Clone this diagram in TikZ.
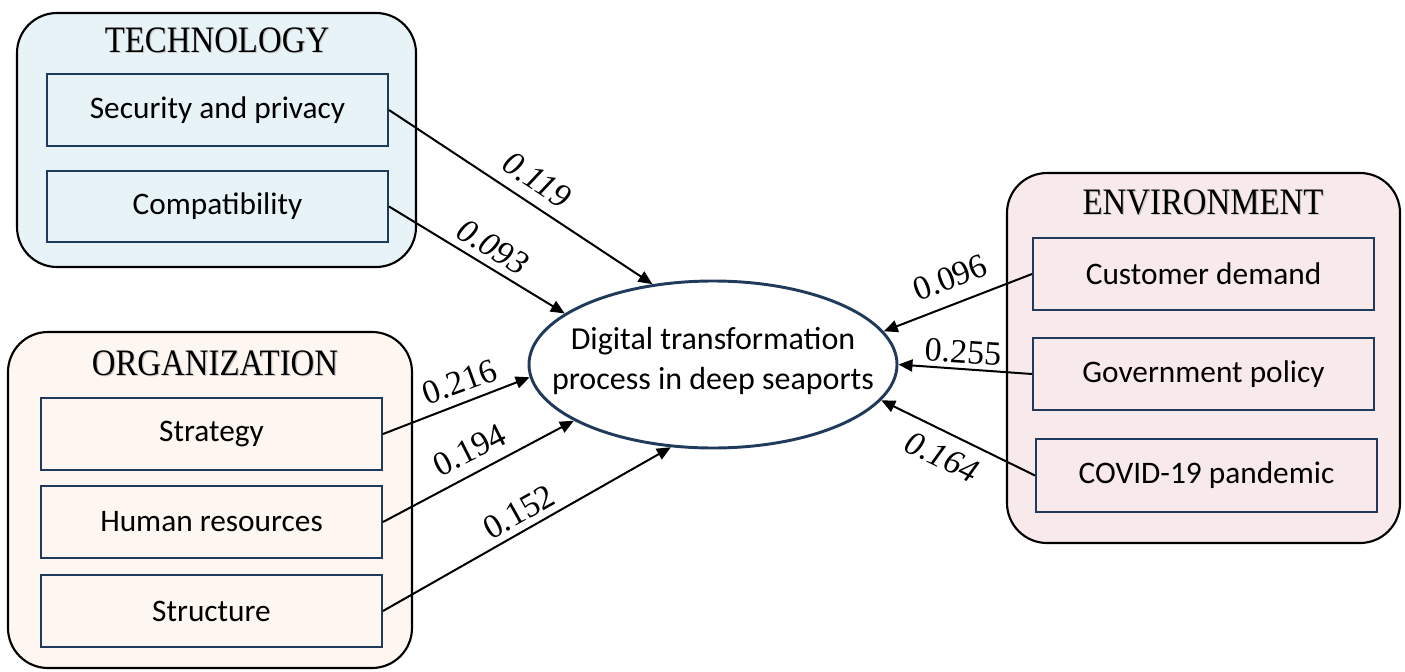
\documentclass[tikz,border=0pt]{standalone}
\usepackage{fontspec}
\setmainfont{Liberation Serif}
\newfontfamily\boxfont{Carlito}
\newfontfamily\headfont[FakeStretch=0.88]{Liberation Serif}
\usetikzlibrary{arrows.meta,shapes.geometric}

\definecolor{techfill}{HTML}{E8F3F8}
\definecolor{orgfill}{HTML}{FEF6F1}
\definecolor{envfill}{HTML}{F8E9EA}
\definecolor{navy}{HTML}{1F3A5A}

\tikzset{
  group/.style={draw=black, line width=1.6pt, rounded corners=30pt, inner sep=0pt},
  item/.style={draw=navy, line width=1.5pt, inner sep=0pt,
    minimum width=255.75pt, minimum height=54pt,
    font=\boxfont\fontsize{23.5}{28}\selectfont},
  head/.style={font=\headfont\fontsize{28}{32}\selectfont, inner sep=0pt},
  headshadow/.style={head, text=black!22},
  core/.style={ellipse, draw=navy, line width=2.2pt, fill=white, inner sep=0pt,
    minimum width=276pt, minimum height=125.25pt},
  coretext/.style={align=center, inner sep=0pt,
    font=\boxfont\fontsize{24}{30}\selectfont},
  link/.style={line width=1.5pt, -{Triangle[length=10.5pt,width=9pt]}},
  coef/.style={font=\fontsize{25.5}{28}\selectfont, inner sep=0pt},
}

\begin{document}
\begin{tikzpicture}[x=0.75pt,y=-0.75pt]
\useasboundingbox (0,0) rectangle (1405,671);

% group panels
\node[group, fill=techfill, minimum width=299.25pt, minimum height=190.5pt] (tech) at (216.5,140) {};
\node[group, fill=orgfill, minimum width=303pt, minimum height=252pt] (org) at (210,500) {};
\node[group, fill=envfill, minimum width=294.75pt, minimum height=277.5pt] (env) at (1203.5,358) {};

% panel headings with a soft shadow
\node[headshadow] (techsh) at (218.2,41.8) {TECHNOLOGY};
\node[head] (techhd) at (217,40.5) {TECHNOLOGY};
\node[headshadow] (orgsh) at (216.2,364.8) {ORGANIZATION};
\node[head] (orghd) at (215,363.5) {ORGANIZATION};
\node[headshadow] (envsh) at (1204.2,203.8) {ENVIRONMENT};
\node[head] (envhd) at (1203,202.5) {ENVIRONMENT};

% factor boxes
\node[item, fill=techfill] (sec) at (217.5,110) {Security and privacy};
\node[item, fill=techfill, minimum height=53.25pt] (comp) at (217.5,206.5) {Compatibility};
\node[item, fill=orgfill] (strat) at (211.5,434) {Strategy};
\node[item, fill=orgfill] (hr) at (211.5,522) {Human resources};
\node[item, fill=orgfill] (struct) at (211.5,611) {Structure};
\node[item, fill=envfill] (cust) at (1203.5,274) {Customer demand};
\node[item, fill=envfill] (gov) at (1203.5,374) {Government policy};
\node[item, fill=envfill, minimum height=54.75pt] (covid) at (1206.5,475.5) {COVID-19 pandemic};

% central construct: fixed-size ellipse with its caption on top
\node[core] (dt) at (713,364.5) {};
\node[coretext] (dtlabel) at (713,361) {Digital transformation\\process in deep seaports};

% paths
\draw[link] (sec.east) -- (dt.127);
\draw[link] (comp.east) -- (dt.161.3);
\draw[link] (strat.east) -- (dt.184);
\draw[link] (hr.east) -- (dt.202.8);
\draw[link] (struct.east) -- (dt.243.6);
\draw[link] (cust.west) -- (dt.11.2);
\draw[link] (gov.west) -- (dt.-0.8);
\draw[link] (covid.west) -- (dt.-12.5);

% path coefficients
\node[coef, rotate=-33.4] (c1) at (537,180) {\itshape 0.119};
\node[coef, rotate=-32] (c2) at (493,247) {\itshape 0.093};
\node[coef, rotate=20.1] (c3) at (460,382) {0.216};
\node[coef, rotate=26.7] (c4) at (470,450) {0.194};
\node[coef, rotate=29.3] (c5) at (519,512) {0.152};
\node[coef, rotate=20.7] (c6) at (950,278) {0.096};
\node[coef, rotate=-3.7] (c7) at (963,352) {0.255};
\node[coef, rotate=-25.7] (c8) at (942,457) {\itshape 0.164};
\end{tikzpicture}
\end{document}
